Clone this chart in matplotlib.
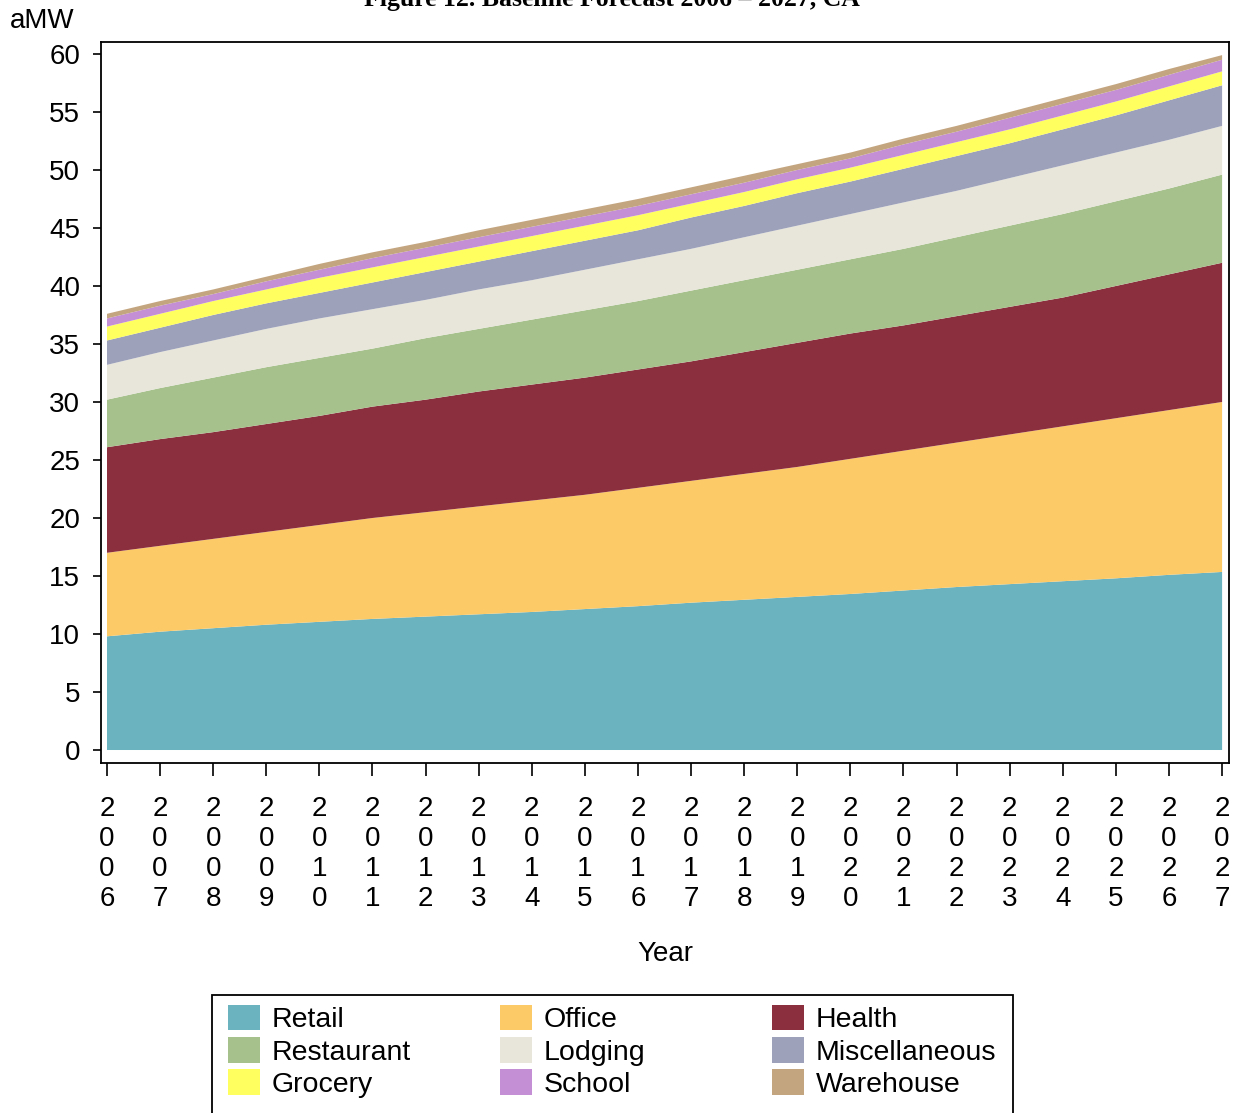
import numpy as np
import matplotlib.pyplot as plt
from matplotlib.patches import Patch, Rectangle

# -----------------------------
# Data (aMW by building type)
# -----------------------------
years = list(range(2006, 2028))

retail = [9.8, 10.2, 10.5, 10.8, 11.05, 11.3, 11.5, 11.7, 11.9, 12.15, 12.4,
          12.7, 12.95, 13.2, 13.45, 13.75, 14.05, 14.3, 14.55, 14.8, 15.1, 15.35]
office = [7.2, 7.4, 7.7, 8.0, 8.35, 8.7, 9.0, 9.3, 9.6, 9.85, 10.2,
          10.5, 10.85, 11.2, 11.65, 12.05, 12.45, 12.9, 13.35, 13.8, 14.2, 14.65]
health = [9.1, 9.2, 9.2, 9.3, 9.4, 9.6, 9.7, 9.9, 10.0, 10.1, 10.2,
          10.3, 10.5, 10.7, 10.8, 10.8, 10.9, 11.0, 11.1, 11.4, 11.7, 12.0]
restaurant = [4.1, 4.4, 4.7, 4.9, 5.0, 5.0, 5.3, 5.4, 5.6, 5.8, 5.9,
              6.1, 6.2, 6.3, 6.4, 6.6, 6.8, 7.0, 7.2, 7.3, 7.4, 7.6]
lodging = [3.0, 3.1, 3.2, 3.3, 3.4, 3.4, 3.3, 3.4, 3.4, 3.5, 3.6,
           3.6, 3.7, 3.8, 3.9, 4.0, 4.0, 4.1, 4.2, 4.2, 4.2, 4.2]
misc = [2.1, 2.1, 2.2, 2.2, 2.2, 2.3, 2.4, 2.4, 2.5, 2.5, 2.5,
        2.7, 2.7, 2.8, 2.8, 2.9, 3.0, 3.0, 3.1, 3.2, 3.4, 3.5]
grocery = [1.2, 1.2, 1.2, 1.2, 1.3, 1.3, 1.3, 1.3, 1.3, 1.3, 1.3,
           1.2, 1.2, 1.2, 1.2, 1.2, 1.2, 1.2, 1.2, 1.2, 1.2, 1.2]
school = [0.7, 0.7, 0.6, 0.7, 0.7, 0.8, 0.8, 0.8, 0.8, 0.8, 0.8,
          0.8, 0.8, 0.8, 0.8, 0.9, 0.9, 1.0, 1.0, 1.0, 1.0, 1.0]
warehouse = [0.4, 0.4, 0.4, 0.4, 0.5, 0.5, 0.5, 0.6, 0.6, 0.6, 0.6,
             0.6, 0.6, 0.5, 0.5, 0.5, 0.5, 0.5, 0.5, 0.5, 0.5, 0.4]

labels = ['Retail', 'Office', 'Health', 'Restaurant', 'Lodging',
          'Miscellaneous', 'Grocery', 'School', 'Warehouse']
colors = ['#6cb3c0', '#fdca68', '#8b2f3f', '#a7c18d', '#e8e6da',
          '#9da1ba', '#ffff60', '#c48fd5', '#c3a580']

plt.rcParams['font.family'] = ['Liberation Sans', 'DejaVu Sans']

# -----------------------------
# Stacked area chart
# -----------------------------
fig = plt.figure(figsize=(12.41, 11.13), dpi=100)
ax = fig.add_axes([101 / 1241, 1 - 763 / 1113, 1128 / 1241, 721 / 1113])

series = [retail, office, health, restaurant, lodging, misc, grocery, school, warehouse]
ax.stackplot(years, *series, colors=colors, linewidth=0)

ax.set_xlim(2005.887, 2027.13)
ax.set_ylim(-1.12, 61.03)
ax.set_yticks(range(0, 61, 5))
ax.set_xticks(years)
ax.set_xticklabels(['\n'.join(str(y)) for y in years], linespacing=1.2)

ax.tick_params(axis='y', direction='out', length=6, width=1.2, pad=9, labelsize=20)
ax.tick_params(axis='x', direction='out', length=9.5, width=1.2, pad=14, labelsize=20)
for spine in ax.spines.values():
    spine.set_linewidth(1.3)

ax.set_xlabel('Year', fontsize=20, labelpad=21)

fig.text(10 / 1241, 1 - 21 / 1113, 'aMW', fontsize=20, ha='left', va='center')
# title sits mostly above the page edge, as in the source image
fig.text(612 / 1241, 1 - 6 / 1113, 'Figure 12. Baseline Forecast 2006 \u2013 2027, CA',
         fontsize=18.5, fontweight='bold', family='Liberation Serif',
         ha='center', va='baseline')

# -----------------------------
# Legend (three columns, box runs off the bottom)
# -----------------------------
handles = [Patch(facecolor=c, edgecolor='none') for c in colors]
col_x = [228, 500, 772]
for i, x0 in enumerate(col_x):
    idx = [i, i + 3, i + 6]
    fig.legend([handles[k] for k in idx], [labels[k] for k in idx],
               loc='upper left', bbox_to_anchor=(x0 / 1241, 1 - 1005 / 1113),
               frameon=False, fontsize=20.5, borderpad=0, borderaxespad=0,
               handlelength=1.12, handleheight=1.0, handletextpad=0.42,
               labelspacing=0.13)

fig.patches.append(Rectangle((212 / 1241, -0.01), (1013 - 212) / 1241, 0.01 + 1 - 995 / 1113,
                             transform=fig.transFigure, fill=False,
                             edgecolor='black', linewidth=1.3))

plt.savefig('out.png', dpi=100)
